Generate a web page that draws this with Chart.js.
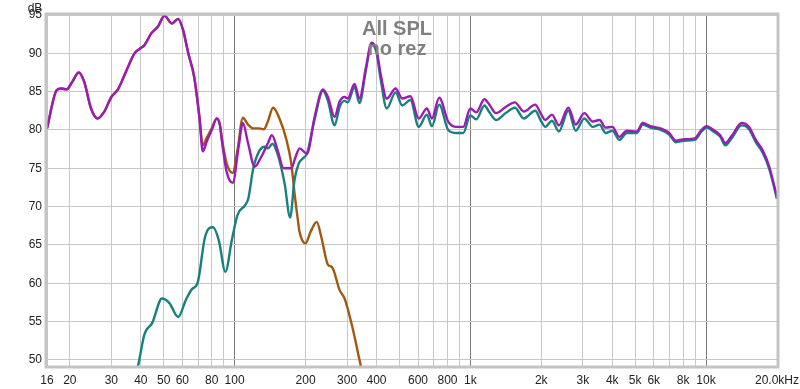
<!DOCTYPE html>
<html>
<head>
<meta charset="utf-8">
<script src="https://cdn.jsdelivr.net/npm/chart.js@4/dist/chart.umd.min.js"></script>
<style>
  html, body { margin: 0; padding: 0; background: #fff; }
  #wrap { width: 800px; height: 389px; position: relative; }
</style>
</head>
<body>
<div id="wrap"><canvas id="spl"></canvas></div>
<script>
/* ── Data (Hz / dB) ───────────────────────────────────────── */
const purpleHz = [16, 17.6, 18.4, 19.4, 20.5, 21.8, 23, 24.6, 26.2, 28, 30, 32, 34.6, 37.6, 39.6, 41.5, 44.3, 47.3, 50.4, 54.2, 57.6, 60.5, 63.6, 67.3, 70.9, 73.3, 76.2, 80, 84, 86.7, 88.2, 92.6, 98.2, 104, 108.4, 114, 121.7, 129.8, 138.5, 144, 152.7, 161.4, 173.9, 181.5, 188.6, 202.7, 218.5, 237, 248.8, 265.6, 278.9, 292.7, 302, 322.5, 338.6, 361, 381, 400, 417, 442, 482, 514, 557, 604, 654, 687, 738, 806, 874, 933, 1000, 1060, 1148, 1205, 1285, 1413, 1545, 1685, 1886, 1985, 2080, 2220, 2375, 2605, 2800, 3045, 3305, 3535, 3750, 4010, 4285, 4610, 5090, 5385, 5810, 6420, 6975, 7460, 8100, 8950, 9570, 10060, 10750, 11490, 12070, 12900, 14150, 15220, 16250, 17350, 18550, 20000];
const purpleDb = [80.2, 85.2, 85.4, 85.3, 86.3, 87.5, 86.3, 82.8, 81.5, 82.4, 84.3, 85.3, 87.6, 90.0, 90.6, 91.1, 92.6, 93.5, 94.9, 93.9, 94.5, 93.0, 90.0, 87.0, 81.7, 77.2, 78.5, 80.0, 81.5, 80.6, 78.7, 74.5, 73.1, 77.8, 80.9, 78.3, 75.2, 76.5, 78.3, 79.3, 77.2, 75.0, 75.0, 76.5, 77.6, 76.9, 81.7, 85.3, 84.3, 81.7, 83.7, 84.3, 84.1, 86.0, 84.1, 88.2, 91.4, 90.4, 87.2, 84.1, 85.4, 84.1, 84.4, 81.5, 82.8, 81.5, 84.2, 81.1, 80.4, 80.4, 82.8, 82.3, 84.0, 83.3, 82.2, 83.0, 83.6, 82.4, 83.3, 82.2, 81.3, 82.0, 80.6, 82.9, 80.7, 82.2, 81.1, 81.3, 80.3, 80.4, 79.1, 79.9, 79.8, 80.9, 80.5, 80.2, 79.6, 78.6, 78.8, 78.9, 80.0, 80.5, 80.0, 79.3, 78.3, 79.3, 80.9, 80.4, 78.7, 77.4, 75.2, 71.2];

const tealHz = [37, 38.7, 41.5, 44.7, 49.2, 52.9, 57.6, 62.1, 65.8, 69.6, 75, 81, 85.7, 91.4, 97.3, 102.8, 110.8, 114.4, 120, 127, 134, 138.5, 144.6, 152.7, 163, 172, 179.6, 187, 195, 202.7, 218.5, 237, 248.8, 265.6, 278.9, 292.7, 302, 322.5, 338.6, 361, 381, 400, 417, 442, 482, 514, 557, 604, 654, 687, 738, 806, 874, 933, 1000, 1060, 1148, 1205, 1285, 1413, 1545, 1685, 1886, 1985, 2080, 2220, 2375, 2605, 2800, 3045, 3305, 3535, 3750, 4010, 4285, 4610, 5090, 5385, 5810, 6420, 6975, 7460, 8100, 8950, 9570, 10060, 10750, 11490, 12070, 12900, 14150, 15220, 16250, 17350, 18550, 20000];
const tealDb = [47.5, 48.9, 53.4, 54.8, 58.0, 57.4, 55.6, 57.8, 59.2, 60.0, 66.1, 67.3, 65.6, 61.5, 65.6, 68.9, 70.2, 71.1, 75.0, 77.2, 77.8, 77.6, 78.2, 76.7, 73.0, 68.6, 73.5, 75.6, 76.3, 76.9, 81.4, 85.1, 83.8, 80.6, 83.0, 83.8, 83.6, 85.6, 83.5, 87.9, 91.2, 90.1, 86.5, 82.8, 84.9, 83.2, 83.9, 80.4, 82.0, 80.5, 83.3, 80.0, 79.6, 79.6, 81.9, 81.4, 83.2, 82.3, 81.3, 82.2, 82.9, 81.5, 82.5, 81.3, 80.4, 81.2, 79.8, 82.5, 79.9, 81.5, 80.4, 80.7, 79.6, 79.9, 78.7, 79.6, 79.6, 80.7, 80.3, 80.0, 79.4, 78.4, 78.6, 78.7, 79.8, 80.3, 79.8, 79.1, 78.0, 79.0, 80.6, 80.1, 78.4, 77.1, 74.9, 71.0];

const brownHz = [16, 17.6, 18.4, 19.4, 20.5, 21.8, 23, 24.6, 26.2, 28, 30, 32, 34.6, 37.6, 39.6, 41.5, 44.3, 47.3, 50.4, 54.2, 57.6, 60.5, 63.6, 67.3, 70.9, 73.3, 76.2, 80, 84, 86.7, 88.2, 92.6, 98.2, 103, 108.4, 114, 120, 127, 133, 138, 145.6, 155, 166, 174, 179.6, 185.6, 188.6, 200, 210, 223, 233, 249, 259, 279, 293, 318, 338.6, 350];
const brownDb = [80.2, 85.2, 85.4, 85.3, 86.3, 87.5, 86.3, 82.8, 81.5, 82.4, 84.3, 85.3, 87.6, 90.0, 90.6, 91.1, 92.6, 93.5, 94.9, 93.9, 94.5, 93.0, 90.0, 87.0, 81.7, 78.0, 79.0, 80.2, 81.5, 80.6, 79.0, 75.6, 74.4, 77.5, 81.6, 80.7, 80.2, 80.2, 80.1, 81.0, 82.9, 81.5, 78.7, 75.6, 71.7, 68.2, 66.7, 65.2, 66.7, 68.0, 66.1, 62.4, 62.1, 59.1, 58.0, 53.9, 50.0, 48.0];

// x grid positions and the ones that carry a label
const gridHz = [16, 20, 30, 40, 50, 60, 70, 80, 90, 100, 200, 300, 400, 500, 600, 700, 800, 900, 1000, 2000, 3000, 4000, 5000, 6000, 7000, 8000, 9000, 10000, 20000];
const tickLabels = { 16: '16', 20: '20', 30: '30', 40: '40', 50: '50', 60: '60', 80: '80', 100: '100', 200: '200', 300: '300', 400: '400', 600: '600', 800: '800', 1000: '1k', 2000: '2k', 3000: '3k', 4000: '4k', 5000: '5k', 6000: '6k', 8000: '8k', 10000: '10k', 20000: '20.0kHz' };
const dbTicks = [50, 55, 60, 65, 70, 75, 80, 85, 90, 95];

const toPoints = (xs, ys) => xs.map((x, i) => ({ x, y: ys[i] }));

/* ── Overlay: frame, dB unit, caption ─────────────────────── */
const overlay = {
  id: 'overlay',
  afterDraw(chart) {
    const { ctx, chartArea: a } = chart;
    ctx.save();
    ctx.strokeStyle = '#c4c4c4';
    ctx.lineWidth = 3;
    ctx.strokeRect(a.left - 1, a.top - 1, a.right - a.left + 2, a.bottom - a.top + 2);
    ctx.fillStyle = '#222';
    ctx.font = '12px "Liberation Sans", Arial, sans-serif';
    ctx.textAlign = 'center';
    ctx.textBaseline = 'alphabetic';
    ctx.fillText('dB', 35, 12);
    ctx.fillStyle = '#808080';
    ctx.font = 'bold 20px "Liberation Sans", Arial, sans-serif';
    ctx.fillText('All SPL', 397, 35);
    ctx.fillText('no rez', 397, 55);
    ctx.restore();
  }
};

const lineStyle = { borderWidth: 2.4, pointRadius: 0, fill: false, cubicInterpolationMode: 'monotone' };

new Chart(document.getElementById('spl'), {
  type: 'line',
  data: {
    datasets: [
      { label: 'All SPL', data: toPoints(purpleHz, purpleDb), borderColor: '#9a1cb5', ...lineStyle },
      { label: 'Teal', data: toPoints(tealHz, tealDb), borderColor: '#18807e', ...lineStyle },
      { label: 'Brown', data: toPoints(brownHz, brownDb), borderColor: '#a3580f', ...lineStyle }
    ]
  },
  options: {
    responsive: true,
    maintainAspectRatio: false,
    animation: false,
    layout: { padding: { top: 15, right: 23, left: 0, bottom: 0 } },
    plugins: { legend: { display: false }, tooltip: { enabled: false } },
    scales: {
      x: {
        type: 'logarithmic',
        min: 16,
        max: 20000,
        afterBuildTicks: s => { s.ticks = gridHz.map(v => ({ value: v })); },
        // keep the plot edges fixed; labels may hang over the sides
        afterFit: s => { s.height = 23; s.paddingLeft = 0; s.paddingRight = 0; },
        grid: {
          drawTicks: false,
          color: c => [100, 1000, 10000].includes(c.tick?.value) ? '#7a7a7a' : '#c8c8c8'
        },
        border: { display: false },
        ticks: {
          autoSkip: false,
          maxRotation: 0,
          padding: 7,
          color: '#222',
          font: { family: '"Liberation Sans", Arial, sans-serif', size: 12 },
          callback: v => tickLabels[v] || ''
        }
      },
      y: {
        min: 49.2,
        max: 95,
        afterBuildTicks: s => { s.ticks = dbTicks.map(v => ({ value: v })); },
        afterFit: s => { s.width = 47; },
        grid: { drawTicks: false, color: '#c8c8c8' },
        border: { display: false },
        ticks: {
          padding: 5,
          color: '#222',
          font: { family: '"Liberation Sans", Arial, sans-serif', size: 12 }
        }
      }
    }
  },
  plugins: [overlay]
});
</script>
</body>
</html>
